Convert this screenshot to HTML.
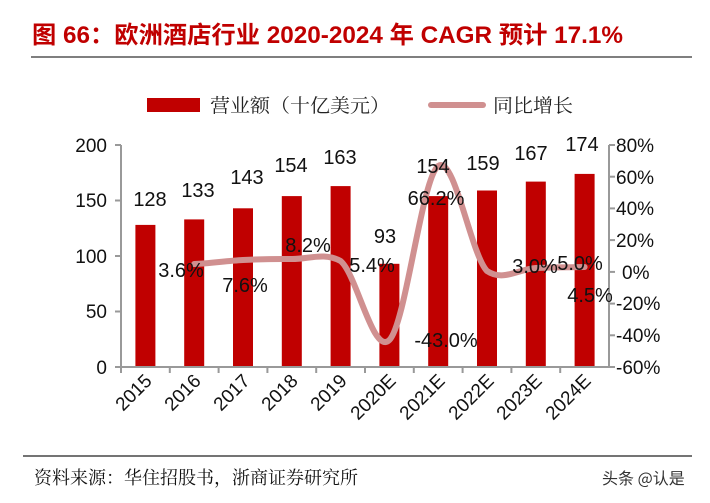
<!DOCTYPE html>
<html><head><meta charset="utf-8"><style>
html,body{margin:0;padding:0;background:#fff;}
svg{display:block;}
</style></head><body>
<svg width="710" height="503" viewBox="0 0 710 503" xmlns="http://www.w3.org/2000/svg" font-family="'Liberation Sans','Noto Sans CJK SC',sans-serif">
<text x="32" y="43" font-size="24" font-weight="bold" fill="#c00000" textLength="591" lengthAdjust="spacingAndGlyphs">图  66：欧洲酒店行业 2020-2024 年 CAGR  预计 17.1%</text>
<line x1="31" y1="57" x2="692" y2="57" stroke="#555" stroke-width="1.5"/>
<!-- legend -->
<rect x="147" y="98" width="53" height="14" fill="#c00000"/>
<text x="210" y="112" font-size="19" fill="#222" textLength="180" lengthAdjust="spacingAndGlyphs" font-family="'Noto Serif CJK SC','Noto Sans CJK SC',serif">营业额（十亿美元）</text>
<line x1="431" y1="105" x2="483" y2="105" stroke="#d09090" stroke-width="6" stroke-linecap="round"/>
<text x="493" y="112" font-size="19" fill="#222" textLength="80" lengthAdjust="spacingAndGlyphs" font-family="'Noto Serif CJK SC','Noto Sans CJK SC',serif">同比增长</text>
<!-- bars -->
<g fill="#c00000">
<rect x="135.4" y="224.9" width="20" height="142.1"/>
<rect x="184.2" y="219.4" width="20" height="147.6"/>
<rect x="233" y="208.3" width="20" height="158.7"/>
<rect x="281.8" y="196.1" width="20" height="170.9"/>
<rect x="330.6" y="186.1" width="20" height="180.9"/>
<rect x="379.4" y="263.8" width="20" height="103.2"/>
<rect x="428.2" y="196.1" width="20" height="170.9"/>
<rect x="477" y="190.5" width="20" height="176.5"/>
<rect x="525.8" y="181.6" width="20" height="185.4"/>
<rect x="574.6" y="173.9" width="20" height="193.1"/>
</g>
<!-- axes -->
<g stroke="#999" stroke-width="2" fill="none">
<line x1="121" y1="145" x2="121" y2="368"/>
<line x1="609" y1="145" x2="609" y2="368"/>
<line x1="120" y1="367" x2="610" y2="367"/>
<line x1="115" y1="145" x2="121" y2="145"/><line x1="115" y1="200.5" x2="121" y2="200.5"/><line x1="115" y1="256" x2="121" y2="256"/><line x1="115" y1="311.5" x2="121" y2="311.5"/><line x1="115" y1="367" x2="121" y2="367"/>
<line x1="609" y1="145" x2="615" y2="145"/><line x1="609" y1="176.7" x2="615" y2="176.7"/><line x1="609" y1="208.4" x2="615" y2="208.4"/><line x1="609" y1="240.1" x2="615" y2="240.1"/><line x1="609" y1="271.9" x2="615" y2="271.9"/><line x1="609" y1="303.6" x2="615" y2="303.6"/><line x1="609" y1="335.3" x2="615" y2="335.3"/><line x1="609" y1="367" x2="615" y2="367"/>
<line x1="169.8" y1="367" x2="169.8" y2="373"/><line x1="218.6" y1="367" x2="218.6" y2="373"/><line x1="267.4" y1="367" x2="267.4" y2="373"/><line x1="316.2" y1="367" x2="316.2" y2="373"/><line x1="365" y1="367" x2="365" y2="373"/><line x1="413.8" y1="367" x2="413.8" y2="373"/><line x1="462.6" y1="367" x2="462.6" y2="373"/><line x1="511.4" y1="367" x2="511.4" y2="373"/><line x1="560.2" y1="367" x2="560.2" y2="373"/><line x1="121" y1="367" x2="121" y2="373"/>
</g>
<!-- line -->
<path d="M194.2,264 C210.5,263.3 226.7,260.8 243,260 C259.3,259.2 275.5,258.8 291.8,259 C308.1,259.2 324.3,252 340.6,261 C356.9,274.5 373.1,355.8 389.4,340 C405.7,324.2 421.9,177.5 438.2,166 C454.5,154.5 470.7,254 487,271 C503.3,282 519.5,268.7 535.8,268 C552.1,267.3 568.3,267.2 584.6,267" fill="none" stroke="#d09090" stroke-width="6" stroke-linecap="round"/>
<!-- left ticks -->
<g font-size="19" fill="#111" text-anchor="end">
<text x="107" y="152">200</text><text x="107" y="207">150</text><text x="107" y="263">100</text><text x="107" y="318">50</text><text x="107" y="374">0</text>
</g>
<g font-size="19" fill="#111">
<text x="616" y="152">80%</text><text x="616" y="184">60%</text><text x="616" y="215">40%</text><text x="616" y="247">20%</text><text x="622" y="279">0%</text><text x="616" y="310">-20%</text><text x="616" y="342">-40%</text><text x="616" y="374">-60%</text>
</g>
<!-- value labels -->
<g font-size="20" fill="#111" text-anchor="middle">
<text x="150" y="206">128</text><text x="198" y="197">133</text><text x="247" y="184">143</text><text x="291" y="172">154</text><text x="340" y="164">163</text><text x="385" y="243">93</text><text x="433" y="173">154</text><text x="483" y="170">159</text><text x="531" y="160">167</text><text x="582" y="151">174</text>
<text x="181" y="277">3.6%</text><text x="245" y="292">7.6%</text><text x="308" y="252">8.2%</text><text x="372" y="272">5.4%</text><text x="446" y="347">-43.0%</text><text x="436" y="205">66.2%</text><text x="535" y="273">3.0%</text><text x="580" y="270">5.0%</text><text x="590" y="302">4.5%</text>
</g>
<!-- x labels -->
<g font-size="19" fill="#111" text-anchor="end">
<text transform="translate(153,382) rotate(-45)">2015</text>
<text transform="translate(202,382) rotate(-45)">2016</text>
<text transform="translate(251,382) rotate(-45)">2017</text>
<text transform="translate(299,382) rotate(-45)">2018</text>
<text transform="translate(348,382) rotate(-45)">2019</text>
<text transform="translate(397,382) rotate(-45)">2020E</text>
<text transform="translate(446,382) rotate(-45)">2021E</text>
<text transform="translate(495,382) rotate(-45)">2022E</text>
<text transform="translate(543,382) rotate(-45)">2023E</text>
<text transform="translate(592,382) rotate(-45)">2024E</text>
</g>
<line x1="23" y1="456" x2="692" y2="456" stroke="#222" stroke-width="1.2"/>
<text x="34" y="484" font-size="18" fill="#111" font-family="'Noto Serif CJK SC','Noto Sans CJK SC',serif">资料来源：华住招股书，浙商证券研究所</text>
<text x="602" y="484" font-size="16" fill="#333" font-family="'Noto Sans CJK SC',sans-serif">头条 @认是</text>
</svg>
</body></html>
